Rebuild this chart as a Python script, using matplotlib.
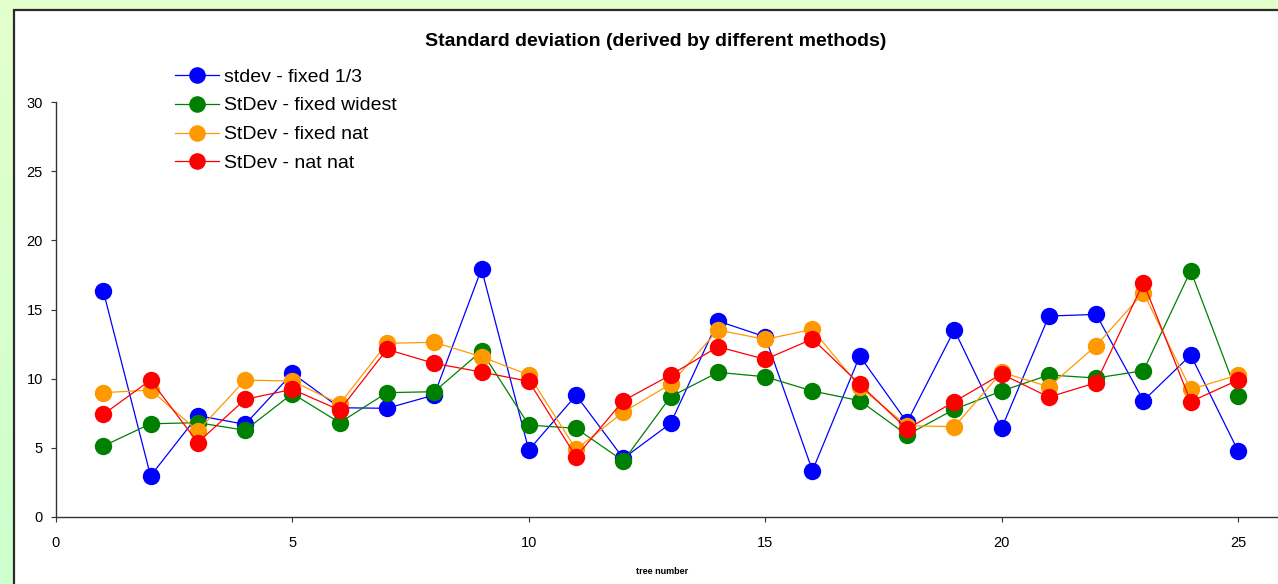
import numpy as np
import matplotlib
matplotlib.use("Agg")
from matplotlib import pyplot as plt
from matplotlib.patches import Rectangle

plt.rcParams['font.family'] = ['Liberation Sans', 'DejaVu Sans']

# data
trees = list(range(1, 26))
stdev_fixed_13 = [16.34, 2.97, 7.33, 6.70, 10.39, 7.90, 7.86, 8.82, 17.93, 4.84,
                  8.80, 4.24, 6.77, 14.17, 13.03, 3.35, 11.64, 6.84, 13.52, 6.41,
                  14.53, 14.65, 8.41, 11.71, 4.79]
stdev_fixed_widest = [5.13, 6.74, 6.82, 6.27, 8.92, 6.82, 8.99, 9.06, 12.00, 6.65,
                      6.41, 4.05, 8.70, 10.46, 10.14, 9.11, 8.41, 5.93, 7.79, 9.11,
                      10.27, 10.05, 10.58, 17.81, 8.77]
stdev_fixed_nat = [8.99, 9.18, 6.22, 9.90, 9.83, 8.17, 12.56, 12.63, 11.59, 10.27,
                   4.89, 7.59, 9.61, 13.52, 12.84, 13.57, 9.40, 6.60, 6.53, 10.46,
                   9.42, 12.39, 16.22, 9.23, 10.27]
stdev_nat_nat = [7.42, 9.90, 5.38, 8.51, 9.23, 7.73, 12.12, 11.11, 10.48, 9.81,
                 4.36, 8.41, 10.27, 12.31, 11.40, 12.87, 9.60, 6.36, 8.34, 10.34,
                 8.67, 9.71, 16.94, 8.34, 9.90]

series = [
    ("stdev - fixed 1/3", stdev_fixed_13, "#0000FF"),
    ("StDev - fixed widest", stdev_fixed_widest, "#008000"),
    ("StDev - fixed nat", stdev_fixed_nat, "#FF9900"),
    ("StDev - nat nat", stdev_nat_nat, "#FF0000"),
]

W, H = 1278, 584
fig = plt.figure(figsize=(W / 100, H / 100), dpi=100)

# light green gradient background
bg = fig.add_axes([0, 0, 1, 1])
grad = np.linspace(0, 1, 256).reshape(-1, 1)
top = np.array([0.89, 1.0, 0.80])
bot = np.array([0.80, 1.0, 0.80])
img = top + (bot - top) * grad[:, :, None]
bg.imshow(img, aspect='auto', extent=[0, 1, 0, 1], origin='upper')
bg.axis('off')

# white chart box, cut off at the right and bottom
bg.add_patch(Rectangle((14 / W, -0.1), 1.2, (H - 10) / H + 0.1,
                       transform=fig.transFigure, facecolor='white',
                       edgecolor='#2b2b2b', linewidth=1.6))
bg.set_xlim(0, 1)
bg.set_ylim(0, 1)

x0, y0 = 56, 517
px_x = 47.28
px_y = 13.83
xmax = 26
ax = fig.add_axes([x0 / W, 1 - y0 / H, xmax * px_x / W, 30 * px_y / H])
ax.set_facecolor('none')

for label, vals, color in series:
    ax.plot(trees, vals, color=color, linewidth=0.9, marker='o',
            markersize=11.5, markeredgecolor=color, label=label)

ax.set_xlim(0, xmax)
ax.set_ylim(0, 30)
ax.set_xticks([0, 5, 10, 15, 20, 25])
ax.set_yticks([0, 5, 10, 15, 20, 25, 30])
for s in ['top', 'right']:
    ax.spines[s].set_visible(False)
for s in ['left', 'bottom']:
    ax.spines[s].set_color('#333333')
    ax.spines[s].set_linewidth(1.0)
ax.tick_params(axis='y', direction='out', length=3.5, width=0.8, color='#333333',
               labelsize=10.5, pad=6)
ax.tick_params(axis='x', direction='out', length=3.5, width=0.8, color='#333333',
               labelsize=10.5, pad=10)

fig.text(656 / W, 1 - 41 / H, "Standard deviation (derived by different methods)",
         ha='center', va='center', fontsize=14, fontweight='bold')
fig.text(662 / W, 1 - 571 / H, "tree number", ha='center', va='center',
         fontsize=6.5, fontweight='bold')

ax.legend(loc='upper left', bbox_to_anchor=(175 / W, 1 - 68 / H),
          bbox_transform=fig.transFigure, frameon=False, fontsize=14,
          handlelength=2.25, handletextpad=0.28, labelspacing=0.58,
          borderpad=0, borderaxespad=0, markerscale=0.95)

fig.savefig("out.png", dpi=100)
